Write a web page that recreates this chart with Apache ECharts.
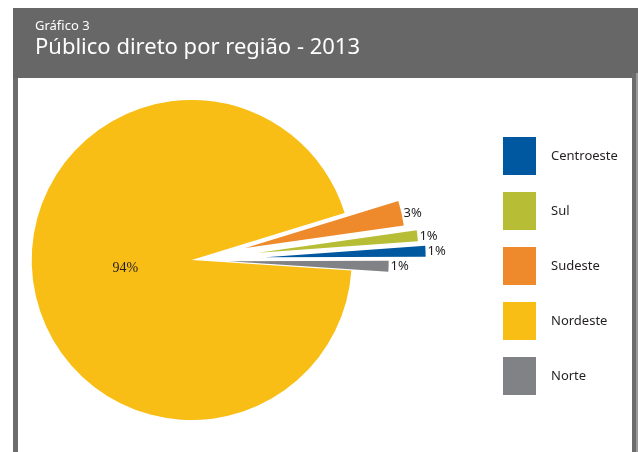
<!DOCTYPE html>
<html>
<head>
<meta charset="utf-8">
<script src="https://cdn.jsdelivr.net/npm/echarts@6/dist/echarts.min.js"></script>
<style>
html,body{margin:0;padding:0;background:#fff;}
#c{width:638px;height:452px;}
</style>
</head>
<body>
<div id="c"></div>
<script>
// ---- data ----
var categories = ['Sudeste', 'Sul', 'Centroeste', 'Norte', 'Nordeste'];
var values = [2.5, 1.1, 1.1, 1.1, 94.2];
var legendOrder = ['Centroeste', 'Sul', 'Sudeste', 'Nordeste', 'Norte'];
var chartLabel = 'Gráfico 3';
var chartTitle = 'Público direto por região - 2013';

// ---- styles ----
var colors = {Sudeste:'#ee8a2c', Sul:'#b7be35', Centroeste:'#0058a0', Norte:'#818285', Nordeste:'#f8be16'};
var explode = [55, 67, 74, 37, 0];

var chart = echarts.init(document.getElementById('c'), null, {renderer:'canvas'});

function pctLabel(p) { return Math.round(p.percent) + '%'; }

var series = categories.map(function (cat, i) {
  return {
    type: 'pie',
    name: cat,
    center: [191.7, 260],
    radius: [0, 160],
    startAngle: 17.1,
    clockwise: true,
    selectedMode: 'single',
    selectedOffset: explode[i],
    avoidLabelOverlap: false,
    labelLayout: {hideOverlap: false},
    animation: false,
    silent: true,
    emphasis: {disabled: true},
    labelLine: {show: false, length: 0, length2: 0},
    data: categories.map(function (n, j) {
      var vis = (j === i);
      var isBig = (n === 'Nordeste');
      return {
        name: n,
        value: values[j],
        selected: vis && explode[i] > 0,
        itemStyle: {color: vis ? colors[n] : 'rgba(0,0,0,0)'},
        label: vis ? (isBig ? {
          show: true, position: 'inside', offset: [16, -1],
          fontFamily: 'Liberation Serif', fontSize: 14, color: '#231f20',
          formatter: pctLabel
        } : {
          show: true, position: 'outside', distanceToLabelLine: 2,
          fontFamily: 'Noto Sans', fontSize: 13, color: '#231f20',
          formatter: pctLabel
        }) : {show: false}
      };
    })
  };
});

chart.setOption({
  animation: false,
  title: [
    {text: chartLabel, left: 30, top: 15, textStyle: {color: '#ffffff', fontFamily: 'Noto Sans', fontSize: 13, fontWeight: 'normal'}},
    {text: chartTitle, left: 30, top: 32, textStyle: {color: '#ffffff', fontFamily: 'Noto Sans', fontSize: 22, fontWeight: 'normal'}}
  ],
  graphic: [
    {type: 'rect', z: -10, silent: true, shape: {x: 13, y: 8, width: 625, height: 70}, style: {fill: '#666766'}},
    {type: 'rect', z: -10, silent: true, shape: {x: 13, y: 78, width: 5, height: 374}, style: {fill: '#6b6c6b'}},
    {type: 'rect', z: -10, silent: true, shape: {x: 632, y: 73, width: 4, height: 379}, style: {fill: '#6b6c6b'}},
    {type: 'rect', z: -10, silent: true, shape: {x: 636, y: 73, width: 2, height: 379}, style: {fill: '#9a9a9a'}}
  ],
  legend: {
    orient: 'vertical',
    left: 498,
    top: 132,
    itemWidth: 33,
    itemHeight: 38,
    itemGap: 17,
    icon: 'rect',
    selectedMode: false,
    textStyle: {fontFamily: 'Noto Sans', fontSize: 13, color: '#231f20', padding: [0, 0, 0, 10]},
    data: legendOrder.map(function (n) { return {name: n, itemStyle: {color: colors[n]}}; })
  },
  series: series
});
</script>
</body>
</html>
